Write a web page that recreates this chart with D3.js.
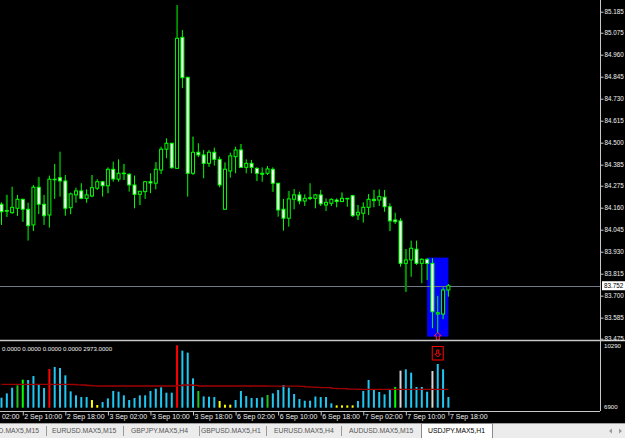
<!DOCTYPE html>
<html>
<head>
<meta charset="utf-8">
<script src="https://cdn.jsdelivr.net/npm/d3@7/dist/d3.min.js"></script>
<style>
body { margin: 0; background: #000; }
svg { display: block; font-family: "Liberation Sans", Arial, sans-serif; }
</style>
</head>
<body>
<svg width="625" height="438"></svg>
<script>
// data (USDJPY H1, 85 bars)

var open = [84.178,84.145,84.134,84.157,84.204,84.152,84.070,84.267,84.178,84.122,
  84.309,84.317,84.300,84.160,84.227,84.248,84.209,84.221,84.262,84.296,
  84.275,84.361,84.309,84.341,84.335,84.279,84.230,84.244,84.296,84.288,
  84.357,84.466,84.497,84.366,85.051,84.842,84.340,84.450,84.436,84.392,
  84.450,84.413,84.152,84.352,84.427,84.462,84.371,84.392,84.366,84.340,
  84.340,84.361,84.288,84.152,84.105,84.204,84.227,84.195,84.212,84.209,
  84.227,84.174,84.183,84.200,84.192,84.209,84.223,84.122,84.131,84.162,
  84.204,84.200,84.215,84.165,84.096,84.091,83.869,83.887,83.943,83.869,
  83.890,83.869,83.604,83.604,83.730];
var high = [84.188,84.227,84.270,84.227,84.207,84.186,84.279,84.319,84.227,84.328,
  84.389,84.453,84.331,84.239,84.265,84.288,84.256,84.331,84.309,84.300,
  84.371,84.401,84.413,84.389,84.340,84.328,84.247,84.300,84.340,84.398,
  84.479,84.523,84.498,85.220,85.089,84.844,84.531,84.497,84.462,84.462,
  84.474,84.427,84.396,84.448,84.479,84.493,84.413,84.410,84.371,84.371,
  84.378,84.371,84.289,84.206,84.247,84.258,84.244,84.230,84.288,84.232,
  84.253,84.209,84.209,84.209,84.239,84.211,84.227,84.174,84.188,84.232,
  84.253,84.256,84.253,84.183,84.134,84.105,83.944,83.988,83.988,83.896,
  83.896,83.896,83.699,83.744,83.761];
var low = [84.070,84.113,84.128,84.117,84.087,83.988,84.038,84.127,84.070,84.056,
  84.206,84.218,84.118,84.126,84.186,84.204,84.186,84.215,84.253,84.218,
  84.236,84.296,84.296,84.305,84.244,84.157,84.174,84.206,84.236,84.256,
  84.336,84.419,84.365,84.363,84.785,84.218,84.331,84.424,84.314,84.375,
  84.380,84.267,84.151,84.317,84.340,84.370,84.340,84.340,84.301,84.296,
  84.331,84.244,84.113,84.040,84.061,84.152,84.178,84.169,84.200,84.157,
  84.169,84.143,84.169,84.162,84.191,84.165,84.113,84.096,84.082,84.122,
  84.162,84.169,84.139,84.038,84.075,83.852,83.721,83.799,83.861,83.765,
  83.782,83.530,83.503,83.577,83.695];
var close = [84.139,84.142,84.162,84.204,84.152,84.066,84.267,84.178,84.118,84.309,
  84.309,84.300,84.157,84.232,84.248,84.209,84.227,84.265,84.296,84.275,
  84.361,84.310,84.340,84.339,84.279,84.230,84.246,84.296,84.289,84.361,
  84.466,84.497,84.369,85.046,84.840,84.340,84.450,84.436,84.392,84.450,
  84.413,84.279,84.361,84.431,84.462,84.371,84.392,84.371,84.340,84.335,
  84.363,84.288,84.148,84.105,84.206,84.227,84.195,84.209,84.209,84.227,
  84.180,84.188,84.204,84.192,84.209,84.206,84.118,84.136,84.162,84.204,
  84.197,84.218,84.165,84.091,84.087,83.869,83.887,83.948,83.869,83.890,
  83.869,83.616,83.611,83.730,83.752];

// bars whose upper / lower shadow is painted by the overlay indicator
var overlayUp = [1,7,17,23,29,36,42,45,54,64,67,70,76];
var overlayDn = [1,4,20,23,26,39,48,51,67,73,76];

var volume = [2880,3490,4290,4620,5425,5380,5940,4720,4245,6935,
  7220,7080,6040,3770,3210,2970,2970,2545,1840,2260,
  2780,3820,3725,3210,2545,2830,3210,3210,3820,4150,
  4340,3585,3585,10290,9530,9250,5615,3820,3065,3020,
  2970,2405,1885,1885,2545,3820,3110,2830,2830,2925,
  3255,3490,3960,4670,4290,3395,2690,2450,2450,3040,
  2970,2970,2075,1790,1790,1790,1790,2405,3820,5380,
  3960,3680,3350,3960,4390,6700,6890,6415,4390,4390,
  3725,6650,7645,6890,2973];
// b normal, r climax, g/G rising, y low, w churn
var volType = ("bbbGgbbbbr" + "bbbbbbbyyb" + "bbbbbbbbbb" + "bbbrbbbGbb" + "byyybbbbbb" +
  "Gbbbbbbbbb" + "bbbyyyybbb" + "bbbbgwbbbb" + "bwbbb").split("");
var volMA = [4765,4765,4765,4765,4765,4765,4765,4765,4765,4765,
  4765,4765,4765,4740,4700,4670,4600,4550,4530,4530,
  4530,4530,4530,4530,4530,4530,4530,4530,4530,4530,
  4530,4530,4530,4600,4670,4670,4620,4530,4530,4530,
  4530,4530,4530,4530,4530,4530,4530,4530,4530,4530,
  4500,4500,4500,4500,4500,4500,4480,4400,4385,4340,
  4290,4290,4200,4150,4150,4100,4080,4055,4055,4055,
  4055,4055,4055,4055,4055,4055,4055,4055,4055,4055,
  4055,4055,4055,4055,4055];
var indicatorValues = [0, 0, 0, 0, 2973];

var priceTicks = [85.185,85.075,84.960,84.845,84.730,84.615,84.500,84.385,
  84.275,84.160,84.045,83.930,83.815,83.700,83.585,83.475];
var volLabels = ["10290", "6900"];
var timeBars = [-4,4,12,20,28,36,44,52,60,68,76,84];
var timeLabels = ["2 Sep 02:00","2 Sep 10:00","2 Sep 18:00","3 Sep 02:00","3 Sep 10:00",
  "3 Sep 18:00","6 Sep 02:00","6 Sep 10:00","6 Sep 18:00","7 Sep 02:00","7 Sep 10:00","7 Sep 18:00"];

var boxBars = [80, 84], boxPrices = [83.899, 83.486];
var signalBar = 82;

var tabs = ["USD.MAX5,M15","EURUSD.MAX5,M15","GBPJPY.MAX5,H4","GBPUSD.MAX5,H1",
  "EURUSD.MAX5,H4","AUDUSD.MAX5,M15","USDJPY.MAX5,H1"];

// layout

var W = 625, H = 438, axisX = 600;
var mainBottom = 340, volBottom = 411, tabsTop = 423;

var svg = d3.select("svg");
svg.append("rect").attr("width", W).attr("height", H).attr("fill", "#000");

var x = d3.scaleLinear().domain([0, 84]).range([1.5, 448.4]);
var y = d3.scaleLinear().domain([83.475, 85.185]).range([338.7, 11.7]);
var yv = d3.scaleLinear().domain([1460, 10290]).range([407.7, 345.3]);

var bars = d3.range(open.length).map(function(i) {
  return {i: i, o: open[i], h: high[i], l: low[i], c: close[i]};
});

svg.append("clipPath").attr("id", "mainclip")
  .append("rect").attr("width", axisX).attr("height", mainBottom);

var main = svg.append("g").attr("clip-path", "url(#mainclip)");

// signal box
main.append("rect")
  .attr("x", x(boxBars[0])).attr("y", y(boxPrices[0]))
  .attr("width", x(boxBars[1]) - x(boxBars[0]))
  .attr("height", y(boxPrices[1]) - y(boxPrices[0]))
  .attr("fill", "#0000ff");

// current price line
var last = close[close.length - 1];
main.append("line")
  .attr("x1", 0).attr("x2", axisX)
  .attr("y1", Math.round(y(last)) + 0.5).attr("y2", Math.round(y(last)) + 0.5)
  .attr("stroke", "#6f7b88");

// candles
var candle = main.append("g").selectAll("g").data(bars).enter().append("g");

candle.append("line")
  .attr("x1", function(d) { return x(d.i); })
  .attr("x2", function(d) { return x(d.i); })
  .attr("y1", function(d) { return y(d.h); })
  .attr("y2", function(d) { return y(d.l); })
  .attr("stroke", "#00ff00");

candle.filter(function(d) { return overlayUp.indexOf(d.i) >= 0; })
  .append("line")
  .attr("x1", function(d) { return x(d.i); })
  .attr("x2", function(d) { return x(d.i); })
  .attr("y1", function(d) { return y(d.h); })
  .attr("y2", function(d) { return y(Math.max(d.o, d.c)); })
  .attr("stroke", "#008f00").attr("stroke-width", 2);

candle.filter(function(d) { return overlayDn.indexOf(d.i) >= 0; })
  .append("line")
  .attr("x1", function(d) { return x(d.i); })
  .attr("x2", function(d) { return x(d.i); })
  .attr("y1", function(d) { return y(Math.min(d.o, d.c)); })
  .attr("y2", function(d) { return y(d.l); })
  .attr("stroke", "#008f00").attr("stroke-width", 2);

candle.append("rect")
  .attr("x", function(d) { return x(d.i) - 1.5; })
  .attr("y", function(d) { return y(Math.max(d.o, d.c)); })
  .attr("width", 3)
  .attr("height", function(d) { return Math.max(0.6, y(Math.min(d.o, d.c)) - y(Math.max(d.o, d.c))); })
  .attr("fill", function(d) { return d.c < d.o ? "#ffffff" : "#000000"; })
  .attr("stroke", "#00ff00").attr("stroke-width", 1);

// buy arrow under the signal bar
var ax = x(signalBar), ay = y(low[signalBar]) - 1;
main.append("path")
  .attr("d", "M" + ax + "," + ay + " l3.5,3.5 h-2 v4 h-3 v-4 h-2 z")
  .attr("fill", "none").attr("stroke", "#ff1a4a").attr("stroke-width", 1);

// panel borders
svg.append("line").attr("x1", 0).attr("x2", W).attr("y1", mainBottom + 0.5).attr("y2", mainBottom + 0.5)
  .attr("stroke", "#c8c8c8").attr("stroke-width", 1.5);
svg.append("line").attr("x1", axisX + 0.5).attr("x2", axisX + 0.5).attr("y1", 0).attr("y2", volBottom)
  .attr("stroke", "#c8c8c8");
svg.append("line").attr("x1", 0).attr("x2", axisX).attr("y1", volBottom + 0.5).attr("y2", volBottom + 0.5)
  .attr("stroke", "#c8c8c8");

// price axis
var yAxis = svg.append("g")
  .attr("transform", "translate(" + (axisX + 0.5) + ",0)")
  .call(d3.axisRight(y).tickValues(priceTicks).tickSize(3).tickSizeOuter(0).tickFormat(d3.format(".3f")));
yAxis.select(".domain").remove();
yAxis.selectAll("line").attr("stroke", "#c8c8c8");
yAxis.selectAll("text").attr("x", 4).attr("fill", "#f0f0f0")
  .attr("font-size", "6.3px").attr("font-family", "Liberation Sans, Arial, sans-serif");

// last price tag
svg.append("rect").attr("x", axisX + 2).attr("y", y(last) - 4.5).attr("width", 23).attr("height", 9)
  .attr("fill", "#ffffff");
svg.append("text").attr("x", axisX + 4).attr("y", y(last)).attr("dy", "0.35em")
  .attr("font-size", "6.3px").attr("fill", "#000").text(d3.format(".3f")(last));

// volume panel
var vol = svg.append("g");
vol.selectAll("line").data(volume).enter().append("line")
  .attr("x1", function(d, i) { return x(i); })
  .attr("x2", function(d, i) { return x(i); })
  .attr("y1", yv(1460))
  .attr("y2", function(d) { return yv(d); })
  .attr("stroke-width", 2)
  .attr("stroke", function(d, i) {
    return {b: "#1ec8f2", r: "#ff0000", g: "#00ff00", G: "#22c422", y: "#ffff00", w: "#d6d6d6"}[volType[i]];
  });

vol.append("path")
  .datum(volMA)
  .attr("d", d3.line().x(function(d, i) { return x(i); }).y(function(d) { return yv(d); }).curve(d3.curveStepAfter))
  .attr("fill", "none").attr("stroke", "#a00000").attr("stroke-width", 1.3);

svg.append("text").attr("x", 2).attr("y", 348.7).attr("dy", "0.35em")
  .attr("font-size", "6.1px").attr("fill", "#f0f0f0")
  .text(indicatorValues.map(d3.format(".4f")).join(" "));

svg.append("text").attr("x", axisX + 4).attr("y", yv(10290) + 1).attr("dy", "0.35em")
  .attr("font-size", "6.1px").attr("fill", "#f0f0f0").text(volLabels[0]);
svg.append("text").attr("x", axisX + 4).attr("y", yv(1460) - 0.5).attr("dy", "0.35em")
  .attr("font-size", "6.1px").attr("fill", "#f0f0f0").text(volLabels[1]);

// sell arrow box in the volume panel
var bx = x(signalBar);
svg.append("rect").attr("x", bx - 5.5).attr("y", 346.5).attr("width", 11).attr("height", 13.5)
  .attr("fill", "none").attr("stroke", "#ff0000");
svg.append("path")
  .attr("d", "M" + bx + ",357 l-3,-3 h2 v-4 h2 v4 h2 z")
  .attr("fill", "none").attr("stroke", "#ff0000");

// time axis
var xAxis = svg.append("g")
  .attr("transform", "translate(0," + (volBottom + 0.5) + ")")
  .call(d3.axisBottom(x).tickValues(timeBars).tickSize(4).tickSizeOuter(0)
    .tickFormat(function(d, i) { return timeLabels[i]; }));
xAxis.select(".domain").remove();
xAxis.selectAll("line").attr("stroke", "#c8c8c8");
xAxis.selectAll("text").attr("text-anchor", "start").attr("x", 1).attr("y", 3).attr("dy", "0.71em")
  .attr("fill", "#f0f0f0").attr("font-size", "7px").attr("font-family", "Liberation Sans, Arial, sans-serif");

// tabs
var tabBar = svg.append("g");
tabBar.append("rect").attr("x", 0).attr("y", tabsTop).attr("width", W).attr("height", H - tabsTop)
  .attr("fill", "#ececec");
tabBar.append("line").attr("x1", 0).attr("x2", W).attr("y1", tabsTop + 0.5).attr("y2", tabsTop + 0.5)
  .attr("stroke", "#a0a0a0");

var tabStart = [39, 52, 131, 201, 274, 349, 428];
var tabSep = [46.5, 123.5, 199.5, 266.5, 341.5];
tabBar.selectAll(".sep").data(tabSep).enter().append("line")
  .attr("x1", function(d) { return d; }).attr("x2", function(d) { return d; })
  .attr("y1", 426).attr("y2", 436).attr("stroke", "#9a9a9a");

tabBar.append("rect").attr("x", 421.5).attr("y", tabsTop + 0.5).attr("width", 71).attr("height", 15)
  .attr("fill", "#ffffff").attr("stroke", "#8a8a8a");

tabBar.selectAll(".tab").data(tabs).enter().append("text")
  .attr("x", function(d, i) { return tabStart[i]; })
  .attr("y", 433.2)
  .attr("text-anchor", function(d, i) { return i == 0 ? "end" : "start"; })
  .attr("font-size", "6.8px")
  .attr("fill", function(d, i) { return i == tabs.length - 1 ? "#000" : "#555"; })
  .text(function(d) { return d; });

tabBar.append("path").attr("d", "M609,431 l3,-2.5 v5 z").attr("fill", "#9a9a9a");
tabBar.append("path").attr("d", "M622,431 l-3,-2.5 v5 z").attr("fill", "#9a9a9a");
</script>
</body>
</html>
